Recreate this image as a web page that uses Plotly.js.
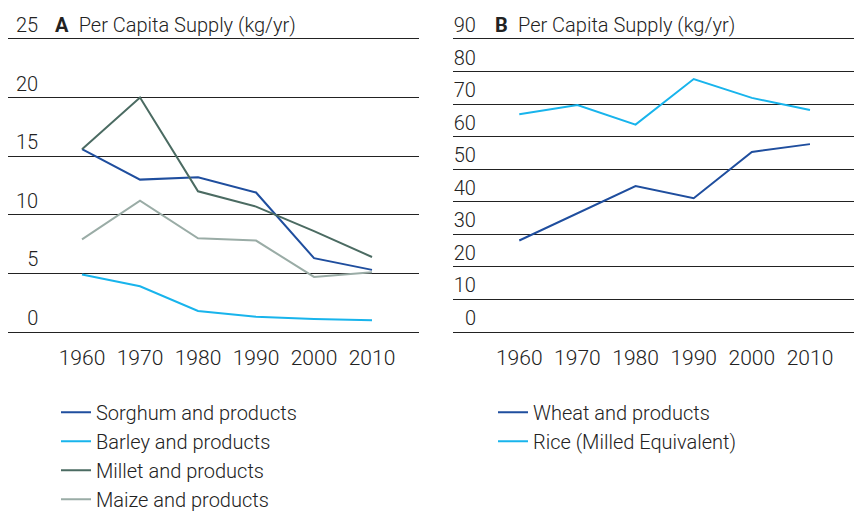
<!DOCTYPE html>
<html>
<head>
<meta charset="utf-8">
<script src="https://cdn.plot.ly/plotly-3.0.1.min.js"></script>
<style>html,body{margin:0;padding:0;background:#fff;}#chart{width:854px;height:511px;}</style>
</head>
<body>
<div id="chart"></div>
<script>
// ---- data ----
var years = [1960, 1970, 1980, 1990, 2000, 2010];
var sorghum = [15.6, 13.0, 13.2, 11.9, 6.3, 5.3];
var barley  = [4.9, 3.9, 1.8, 1.3, 1.1, 1.0];
var millet  = [15.6, 20.0, 12.0, 10.7, 8.6, 6.4];
var maize   = [7.9, 11.2, 8.0, 7.8, 4.7, 5.1];
var wheat   = [28.1, 36.5, 44.8, 41.1, 55.3, 57.7];
var rice    = [66.9, 69.7, 63.7, 77.7, 71.9, 68.2];
var ticksA = [0, 5, 10, 15, 20, 25];
var ticksB = [0, 10, 20, 30, 40, 50, 60, 70, 80, 90];
var namesA = ["Sorghum and products", "Barley and products", "Millet and products", "Maize and products"];
var namesB = ["Wheat and products", "Rice (Milled Equivalent)"];
var titleA = "Per Capita Supply (kg/yr)";
var titleB = "Per Capita Supply (kg/yr)";

var FONT = "Roboto, 'Liberation Sans', sans-serif";
var TXT = "#222";
var cDark = "#1f4e9e", cCyan = "#18b4ec", cMillet = "#4b6b62", cMaize = "#9aaca6";

function pad(v){ return v < 10 ? "\u2007" + v : String(v); }

var traces = [
  {x: years, y: sorghum, name: namesA[0], xaxis: "x", yaxis: "y", legend: "legend", line: {color: cDark, width: 2}},
  {x: years, y: barley,  name: namesA[1], xaxis: "x", yaxis: "y", legend: "legend", line: {color: cCyan, width: 2}},
  {x: years, y: millet,  name: namesA[2], xaxis: "x", yaxis: "y", legend: "legend", line: {color: cMillet, width: 2}},
  {x: years, y: maize,   name: namesA[3], xaxis: "x", yaxis: "y", legend: "legend", line: {color: cMaize, width: 2}},
  {x: years, y: wheat,   name: namesB[0], xaxis: "x2", yaxis: "y2", legend: "legend2", line: {color: cDark, width: 2}},
  {x: years, y: rice,    name: namesB[1], xaxis: "x2", yaxis: "y2", legend: "legend2", line: {color: cCyan, width: 2}}
];
traces.forEach(function(t){ t.type = "scatter"; t.mode = "lines"; t.hoverinfo = "skip"; });

// plot area: top edge at 12px, bottom (value 0) at 332.5px; top gridline (25 / 90) at 39px
var TOP = 12, BOT = 332.5, GRIDTOP = 39;
var pxA = (BOT - GRIDTOP) / 25, pxB = (BOT - GRIDTOP) / 90;
var H = BOT - TOP;

var yCommon = {
  showgrid: true, gridcolor: "#222", gridwidth: 1,
  zeroline: true, zerolinecolor: "#222", zerolinewidth: 1,
  showline: false, ticks: "",
  ticklabelposition: "inside top",
  tickfont: {family: FONT, size: 20, color: TXT, weight: 300},
  fixedrange: true
};
var xCommon = {
  showgrid: false, zeroline: false, showline: false, ticks: "",
  tickmode: "array", tickvals: years, ticktext: years.map(String),
  tickfont: {family: FONT, size: 21, color: TXT, weight: 300},
  ticklabelstandoff: 11,
  fixedrange: true
};

var layout = {
  width: 854, height: 511,
  margin: {l: 0, r: 0, t: TOP, b: 511 - BOT, autoexpand: false},
  paper_bgcolor: "#fff", plot_bgcolor: "#fff",
  font: {family: FONT, size: 20, color: TXT},
  xaxis: Object.assign({}, xCommon, {domain: [8/854, 419/854], range: [1947.24, 2018.1], anchor: "y"}),
  xaxis2: Object.assign({}, xCommon, {domain: [452.7/854, 1], range: [1948.55, 2017.57], anchor: "y2"}),
  yaxis: Object.assign({}, yCommon, {range: [0, 25 + (GRIDTOP - TOP) / pxA], anchor: "x", tickmode: "array", tickvals: ticksA, ticktext: ticksA.map(pad), ticklabelstandoff: 5}),
  yaxis2: Object.assign({}, yCommon, {range: [0, 90 + (GRIDTOP - TOP) / pxB], anchor: "x2", tickmode: "array", tickvals: ticksB, ticktext: ticksB.map(pad), ticklabelstandoff: -2}),
  showlegend: true,
  legend: {x: 56/854, y: 1 - 392.7/511, yref: "container", xanchor: "left", yanchor: "top", bgcolor: "rgba(0,0,0,0)",
           font: {family: FONT, size: 20, color: TXT, weight: 300}, tracegroupgap: 0},
  legend2: {x: 493/854, y: 1 - 392.7/511, yref: "container", xanchor: "left", yanchor: "top", bgcolor: "rgba(0,0,0,0)",
           font: {family: FONT, size: 20, color: TXT, weight: 300}, tracegroupgap: 0},
  annotations: [
    {xref: "paper", yref: "paper", x: 53/854, y: (BOT - 25) / H, xanchor: "left", yanchor: "middle", showarrow: false,
     text: "<b>A</b>\u2002" + titleA, font: {family: FONT, size: 20, color: TXT, weight: 300}},
    {xref: "paper", yref: "paper", x: 492.7/854, y: (BOT - 25) / H, xanchor: "left", yanchor: "middle", showarrow: false,
     text: "<b>B</b>\u2002" + titleB, font: {family: FONT, size: 20, color: TXT, weight: 300}}
  ]
};

Plotly.newPlot("chart", traces, layout, {staticPlot: true, displayModeBar: false});
</script>
</body>
</html>
